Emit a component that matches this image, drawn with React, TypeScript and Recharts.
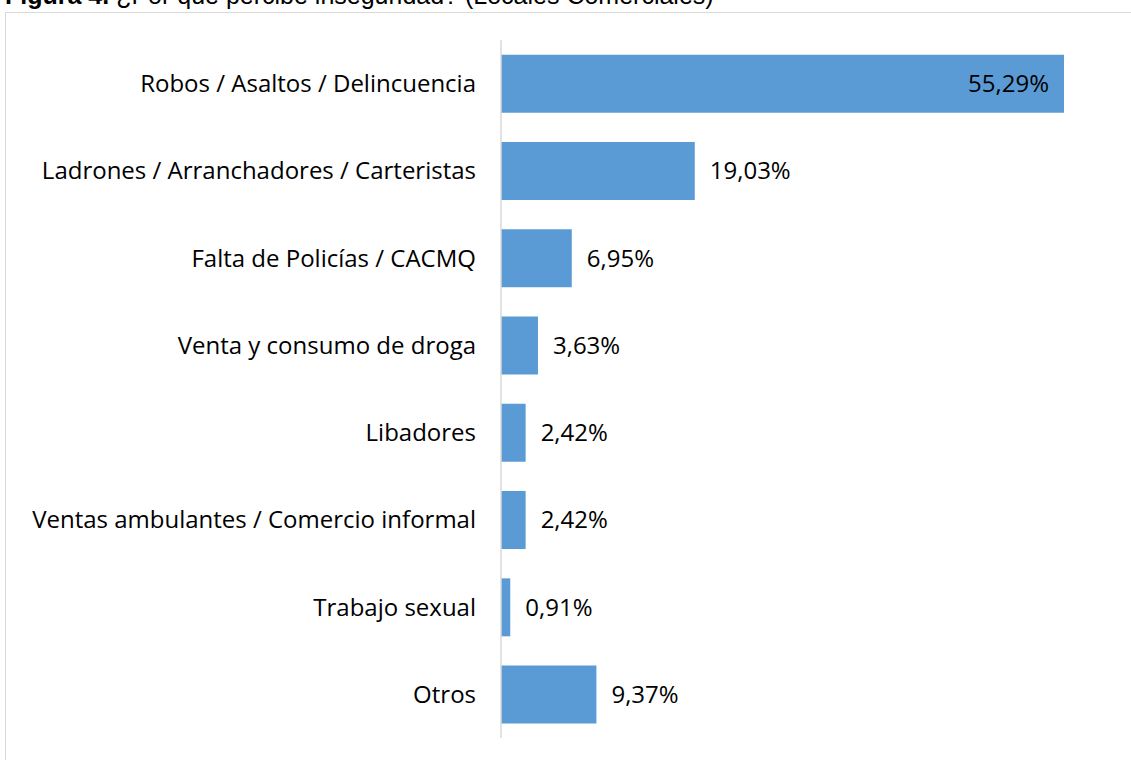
import { BarChart, Bar, XAxis, YAxis, LabelList } from "recharts"

const categories = [
  "Robos / Asaltos / Delincuencia",
  "Ladrones / Arranchadores / Carteristas",
  "Falta de Policías / CACMQ",
  "Venta y consumo de droga",
  "Libadores",
  "Ventas ambulantes / Comercio  informal",
  "Trabajo sexual",
  "Otros",
]
const values = [55.29, 19.03, 6.95, 3.63, 2.42, 2.42, 0.91, 9.37]

const data = categories.map((name, i) => ({ name, value: values[i] }))

const fmt = (v: number) => v.toFixed(2).replace(".", ",") + "%"

function ValueLabel(props: any) {
  const { x, y, width, height, value } = props
  const inside = value > 40
  return (
    <text
      x={inside ? x + width - 15 : x + width + 15}
      y={y + height / 2}
      dy="0.35em"
      textAnchor={inside ? "end" : "start"}
      fontSize={24}
      fontFamily="Open Sans"
      fill="#000"
    >
      {fmt(value)}
    </text>
  )
}

export default function App() {
  return (
    <div style={{ position: "absolute", left: 0, top: 0, width: 1131, height: 760, overflow: "hidden", background: "#fff" }}>
      <div
        style={{
          position: "absolute",
          left: 5,
          top: -19,
          fontFamily: "Liberation Sans",
          fontSize: 25,
          whiteSpace: "nowrap",
          color: "#000",
        }}
      >
        <b>Figura 4.</b> ¿Por qué percibe inseguridad? (Locales Comerciales)
      </div>
      <div
        style={{
          position: "absolute",
          left: 5,
          top: 12,
          width: 1140,
          height: 760,
          border: "1px solid #d9d9d9",
        }}
      />
      <div style={{ position: "absolute", left: 0, top: 0 }}>
        <BarChart
          width={1131}
          height={760}
          data={data}
          layout="vertical"
          margin={{ top: 40, right: 67, left: 0, bottom: 22 }}
          barCategoryGap="17%"
        >
          <XAxis type="number" hide domain={[0, "dataMax"]} />
          <YAxis
            type="category"
            dataKey="name"
            width={501}
            tickLine={false}
            tickSize={0}
            tickMargin={25}
            axisLine={{ stroke: "#d9d9d9", strokeWidth: 1.5 }}
            tick={{ fontSize: 24, fill: "#000", fontFamily: "Open Sans" }}
            interval={0}
          />
          <Bar dataKey="value" fill="#5B9BD5" isAnimationActive={false}>
            <LabelList dataKey="value" content={ValueLabel} />
          </Bar>
        </BarChart>
      </div>
    </div>
  )
}
